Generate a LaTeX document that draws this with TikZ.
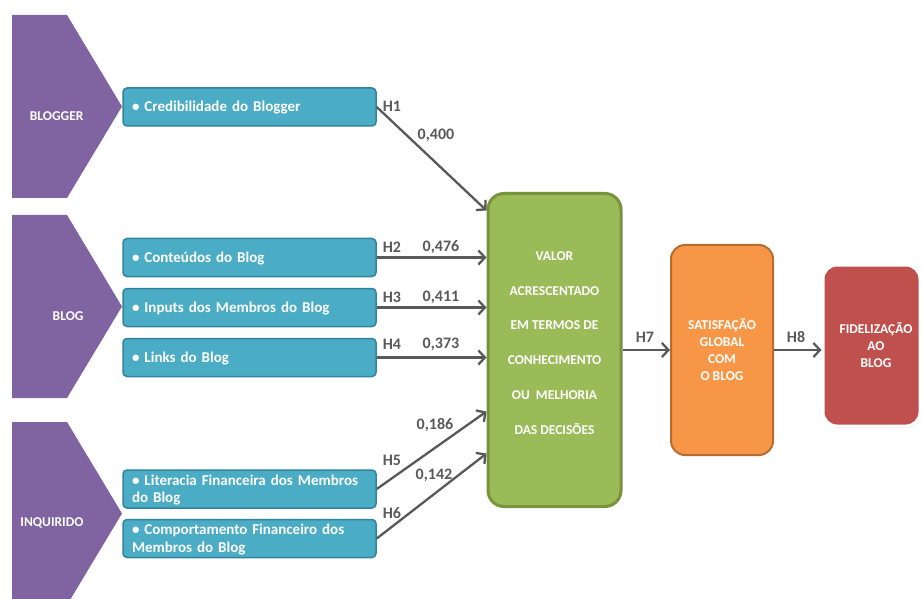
\documentclass[tikz,border=0pt]{standalone}
\usepackage{fontspec}
\setmainfont{Carlito}
\usetikzlibrary{arrows.meta,shadows}

\definecolor{purp}{HTML}{8064A2}
\definecolor{itemfill}{HTML}{4BACC6}
\definecolor{itemline}{HTML}{31849B}
\definecolor{valfill}{HTML}{9BBB59}
\definecolor{valline}{HTML}{77933C}
\definecolor{satfill}{HTML}{F79646}
\definecolor{satline}{HTML}{B66D31}
\definecolor{fidfill}{HTML}{C0504D}
\definecolor{conngray}{HTML}{595959}

\begin{document}
\begin{tikzpicture}[x=1pt,y=-1pt,
	chevron/.style={fill=purp},
	grp/.style={anchor=east,text=white,font=\bfseries\fontsize{13.5}{16}\selectfont},
	item/.style={draw=itemline,fill=itemfill,line width=1.5pt,rounded corners=4pt,
		minimum width=253pt,minimum height=38pt,text width=235pt,inner xsep=9pt,inner ysep=0pt,
		align=left,text=white,font=\bfseries\fontsize{15}{17.5}\selectfont,
		text height=10pt,text depth=0pt},
	twoline/.style={text depth=17.5pt},
	bigbox/.style={minimum width=#1,text=white,align=center,inner sep=0pt},
	lbl/.style={text=conngray,font=\bfseries\fontsize{16}{18}\selectfont},
	conn/.style={draw=conngray,line width=2.3pt,-{Straight Barb[length=6.5pt,width=14pt]}}]
	\clip (0,0) rectangle (922,599);

	% groups on the left
	\fill[chevron] (12,15) -- (67,15) -- (122,106.5) -- (67,198) -- (12,198) -- cycle;
	\fill[chevron] (12,215) -- (67,215) -- (122,306.5) -- (67,398) -- (12,398) -- cycle;
	\fill[chevron] (12,422) -- (67,422) -- (122,513.5) -- (67,605) -- (12,605) -- cycle;
	\node[grp] (blogger) at (87,116) {BLOGGER};
	\node[grp] (blog) at (87,316) {BLOG};
	\node[grp] (inquirido) at (87,523) {INQUIRIDO};

	% items
	\node[item] (cred) at (249.5,107) {\textbullet{} Credibilidade do Blogger};
	\node[item] (cont) at (249.5,257.5) {\textbullet{} Conteúdos do Blog};
	\node[item] (inputs) at (249.5,307.5) {\textbullet{} Inputs dos Membros do Blog};
	\node[item] (links) at (249.5,357.5) {\textbullet{} Links do Blog};
	\node[item,twoline] (literacia) at (249.5,489) {\textbullet{} Literacia Financeira dos Membros\\do Blog};
	\node[item,twoline] (comport) at (249.5,538.5) {\textbullet{} Comportamento Financeiro dos\\Membros do Blog};

	% constructs
	\node[bigbox=133pt,minimum height=313pt,fill=valfill,draw=valline,line width=3pt,rounded corners=16pt] (valor) at (554.5,350) {};
	\node[bigbox=0pt,font=\bfseries\fontsize{13.5}{34.8}\selectfont] (valortxt) at ([yshift=7pt]valor.center)
		{VALOR\\ACRESCENTADO\\EM TERMOS DE\\CONHECIMENTO\\OU\ \ MELHORIA\\DAS DECISÕES};
	\node[bigbox=102pt,minimum height=210pt,fill=satfill,draw=satline,line width=2pt,rounded corners=14pt,
		font=\bfseries\fontsize{13.5}{17}\selectfont] (satis) at (722,350) {SATISFAÇÃO\\GLOBAL\\COM\\O BLOG};
	\node[bigbox=97pt,minimum height=161pt,fill=fidfill,draw=white,line width=3pt,rounded corners=14pt,
		drop shadow={opacity=0.35,shadow xshift=1pt,shadow yshift=-1.5pt}] (fidel) at (871.5,345.5) {};
	\node[bigbox=0pt,font=\bfseries\fontsize{13.5}{17}\selectfont] (fideltxt) at ([xshift=4.5pt]fidel.center)
		{FIDELIZAÇÃO\\AO\\BLOG};

	% free ends on the green box
	\coordinate (in1) at ([yshift=-18.5pt]valor.north west);
	\coordinate (in5) at ([yshift=96.5pt]valor.south west);
	\coordinate (in6) at ([yshift=54.5pt]valor.south west);

	% hypotheses
	\draw[conn] (cred.east) -- (in1);
	\draw[conn] (cont.east) -- (cont.east -| valor.west);
	\draw[conn] (inputs.east) -- (inputs.east -| valor.west);
	\draw[conn] (links.east) -- (links.east -| valor.west);
	\draw[conn] (literacia.east) -- (in5);
	\draw[conn] (comport.east) -- (in6);
	\draw[conn] (valor.east) -- (satis.west);
	\draw[conn] (satis.east) -- (satis.east -| fidel.west);

	% labels
	\node[lbl] (h1) at (392,106) {H1};
	\node[lbl] (w1) at (436,135) {0,400};
	\node[lbl] (h2) at (392,247) {H2};
	\node[lbl] (w2) at (441,247) {0,476};
	\node[lbl] (h3) at (392,297) {H3};
	\node[lbl] (w3) at (441,297) {0,411};
	\node[lbl] (h4) at (392,344) {H4};
	\node[lbl] (w4) at (441,344) {0,373};
	\node[lbl] (h5) at (392,460) {H5};
	\node[lbl] (w5) at (435,425) {0,186};
	\node[lbl] (h6) at (392,513) {H6};
	\node[lbl] (w6) at (434,475) {0,142};
	\node[lbl] (h7) at (645,337) {H7};
	\node[lbl] (h8) at (796,337) {H8};
\end{tikzpicture}
\end{document}
